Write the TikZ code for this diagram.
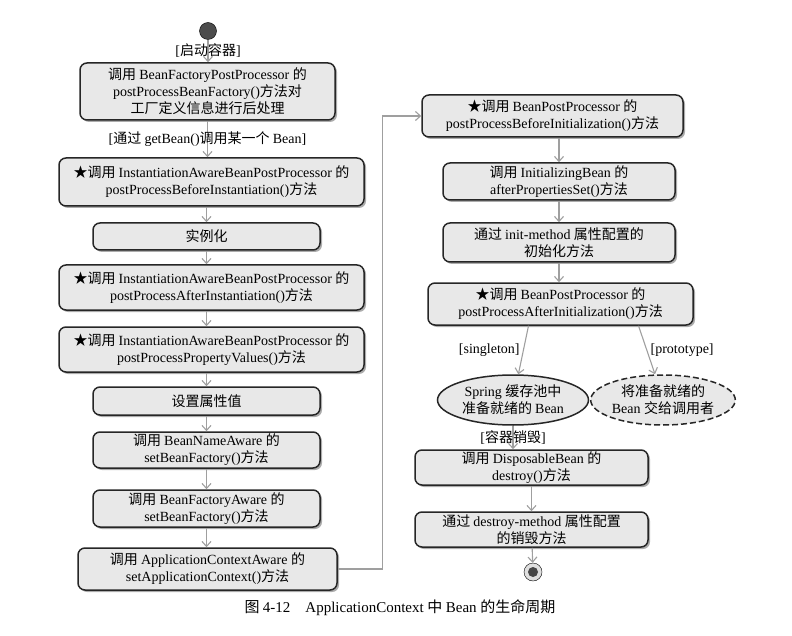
\documentclass[tikz,border=0pt]{standalone}
\usepackage{fontspec}
\setmainfont{Noto Sans CJK SC}
\newfontfamily\latin{Liberation Serif}
\usetikzlibrary{arrows.meta,shapes.geometric,shadows}
\XeTeXinterchartokenstate=1
\newXeTeXintercharclass\hanzi
\newcount\hz
\hz="4E00
\loop \XeTeXcharclass\hz=\hanzi \advance\hz by 1 \ifnum\hz<"A000 \repeat
\XeTeXcharclass"2605=\hanzi
\XeTeXcharclass"3000=\hanzi
\XeTeXinterchartoks 0 \hanzi={\rmfamily}
\XeTeXinterchartoks 4095 \hanzi={\rmfamily}
\XeTeXinterchartoks \hanzi 0={\latin}
\XeTeXinterchartoks 4095 0={\latin}
\begin{document}
\begin{tikzpicture}[x=1pt,y=-1pt,font=\fontsize{14}{17}\selectfont,
	act/.style={draw=black!85,line width=1.5pt,rounded corners=7pt,fill=gray!18,align=center,inner sep=0pt,
		drop shadow={shadow xshift=2pt,shadow yshift=-2pt,fill=black!65}},
	flow/.style={draw=gray!75,line width=1.1pt,-{Straight Barb[length=5pt,width=9pt]}},
	state/.style={ellipse,draw=black!85,line width=1.5pt,fill=gray!18,align=center,inner sep=0pt,minimum height=50}]
\useasboundingbox (0,0) rectangle (792,636);

\node[circle,draw=black,fill=gray!60!black,minimum size=17,inner sep=0pt] (start) at (208,31) {};
\node[act,minimum width=255,minimum height=57] (b1) at (207.5, 91.5) {调用 BeanFactoryPostProcessor 的\\postProcessBeanFactory()方法对\\工厂定义信息进行后处理};
\node[act,minimum width=305,minimum height=48] (b2) at (211.5,182) {★调用 InstantiationAwareBeanPostProcessor 的\\postProcessBeforeInstantiation()方法};
\node[act,minimum width=227,minimum height=27] (b3) at (206.5,236.5) {实例化};
\node[act,minimum width=305,minimum height=45] (b4) at (211.5,287.5) {★调用 InstantiationAwareBeanPostProcessor 的\\postProcessAfterInstantiation()方法};
\node[act,minimum width=305,minimum height=45] (b5) at (211.5,349.5) {★调用 InstantiationAwareBeanPostProcessor 的\\postProcessPropertyValues()方法};
\node[act,minimum width=227,minimum height=28] (b6) at (206.5,401) {设置属性值};
\node[act,minimum width=227,minimum height=36] (b7) at (206.5,450) {调用 BeanNameAware 的\\setBeanFactory()方法};
\node[act,minimum width=227,minimum height=37] (b8) at (206.5,508.5) {调用 BeanFactoryAware 的\\setBeanFactory()方法};
\node[act,minimum width=259,minimum height=42] (b9) at (207.5,569) {调用 ApplicationContextAware 的\\setApplicationContext()方法};

\node[act,minimum width=261,minimum height=42] (r1) at (552.5,116) {★调用 BeanPostProcessor 的\\postProcessBeforeInitialization()方法};
\node[act,minimum width=232,minimum height=37] (r2) at (559,181.5) {调用 InitializingBean 的\\afterPropertiesSet()方法};
\node[act,minimum width=232,minimum height=39] (r3) at (559,242.5) {通过 init-method 属性配置的\\初始化方法};
\node[act,minimum width=265,minimum height=42] (r4) at (560.5,304) {★调用 BeanPostProcessor 的\\postProcessAfterInitialization()方法};
\node[state,minimum width=151] (e1) at (513,400) {Spring 缓存池中\\准备就绪的 Bean};
\node[state,dash pattern=on 6pt off 3pt,minimum width=133] (e2) at (663,400) {将准备就绪的\\Bean 交给调用者};
\node[act,minimum width=233,minimum height=35] (r5) at (531.5,467.5) {调用 DisposableBean 的\\destroy()方法};
\node[act,minimum width=233,minimum height=35] (r6) at (531.5,529.5) {通过 destroy-method 属性配置\\的销毁方法};
\node[circle,draw=black,fill=gray!25,minimum size=18,inner sep=0pt,
	path picture={\fill[gray!55!black] (path picture bounding box.center) circle (5pt);}] (stop) at (533,572) {};

\draw[flow] (start) -- (start |- b1.north) node[midway]{[启动容器]};
\draw[flow] (b1) -- (b1 |- b2.north) node[midway]{[通过 getBean()调用某一个 Bean]};
\draw[flow] (b3 |- b2.south) -- (b3);
\draw[flow] (b3) -- (b3 |- b4.north);
\draw[flow] (b3 |- b4.south) -- (b3 |- b5.north);
\draw[flow] (b3 |- b5.south) -- (b6);
\draw[flow] (b6) -- (b7);
\draw[flow] (b7) -- (b8);
\draw[flow] (b8) -- (b8 |- b9.north);
\draw[flow] (b9.east) -- ++(45,0) |- (r1);
\draw[flow] (r2 |- r1.south) -- (r2);
\draw[flow] (r2) -- (r3);
\draw[flow] (r3) -- (r3 |- r4.north);
\draw[flow] ([xshift=-32pt]r4.south) -- (e1) node[midway,left]{[singleton]};
\draw[flow] ([xshift=78pt]r4.south) -- ([xshift=-8pt]e2.north) node[midway,right]{[prototype]};
\draw[flow] (e1) -- (e1 |- r5.north) node[midway]{[容器销毁]};
\draw[flow] (r5) -- (r6);
\draw[flow] (r6) -- (stop);

\node (cap) at (400,608) {\fontsize{15}{18}\selectfont 图 4-12　ApplicationContext 中 Bean 的生命周期};
\end{tikzpicture}
\end{document}
